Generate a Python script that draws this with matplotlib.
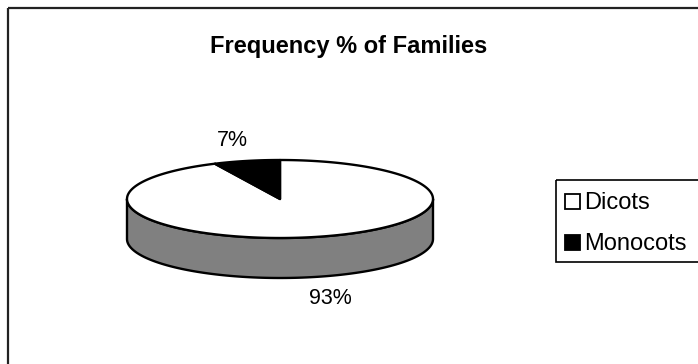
import numpy as np
import matplotlib.pyplot as plt
from matplotlib.patches import Polygon, Rectangle

# Family counts as percentages
labels = ["Dicots", "Monocots"]
shares = [93, 7]
top_colors = ["#FFFFFF", "#000000"]
side_colors = ["#808080", "#000000"]

plt.rcParams['font.family'] = ['Liberation Sans', 'DejaVu Sans']

fig = plt.figure(figsize=(6.98, 3.64), dpi=100)
ax = fig.add_axes([0, 0, 1, 1])
ax.set_xlim(0, 698)
ax.set_ylim(364, 0)
ax.axis('off')

# chart border (runs off the right and bottom edge)
ax.add_patch(Rectangle((8, 8), 700, 370, fill=False, ec="#222222", lw=1.6))

ax.text(349, 47, "Frequency % of Families", ha='center', va='center',
        fontsize=17, fontweight='bold')

# 3D pie geometry
cx, cy = 280, 199
rx, ry = 153, 39
depth = 40


def ell(theta, dy=0):
    t = np.radians(theta)
    return np.column_stack([cx + rx * np.cos(t), cy - ry * np.sin(t) + dy])


# slices start at 12 o'clock and run clockwise
starts, ends = [], []
a = 90.0
for s in shares:
    b = a - 360.0 * s / sum(shares)
    starts.append(a)
    ends.append(b)
    a = b

# side walls: only the front half (180..360) shows
for a0, a1, col in zip(starts, ends, side_colors):
    lo, hi = min(a0, a1), max(a0, a1)
    for off in (0, 360, -360):
        l, h = max(lo + off, 180), min(hi + off, 360)
        if h > l:
            th = np.linspace(l, h, 120)
            pts = np.vstack([ell(th), ell(th[::-1], depth)])
            ax.add_patch(Polygon(pts, closed=True, fc=col, ec='black',
                                 lw=1.7, joinstyle='round'))

# top faces
for a0, a1, col in zip(starts, ends, top_colors):
    th = np.linspace(a0, a1, 200)
    pts = np.vstack([[cx, cy], ell(th)])
    ax.add_patch(Polygon(pts, closed=True, fc=col, ec='black', lw=1.7,
                         joinstyle='round'))

# percentage labels, outside each slice near its mid angle
ax.text(232, 140, f"{shares[1]}%", ha='center', va='center', fontsize=15.5)
ax.text(330, 298, f"{shares[0]}%", ha='center', va='center', fontsize=15.5)

# legend
ax.add_patch(Rectangle((556, 180), 160, 82, fill=False, ec='black', lw=1.2))
for i, (lab, col) in enumerate(zip(labels, top_colors)):
    base = 209 + i * 41
    ax.add_patch(Rectangle((565, base - 15), 15, 15, fc=col, ec='black', lw=1.3))
    ax.text(584, base, lab, ha='left', va='baseline', fontsize=17)

fig.savefig("out.png", dpi=100)
